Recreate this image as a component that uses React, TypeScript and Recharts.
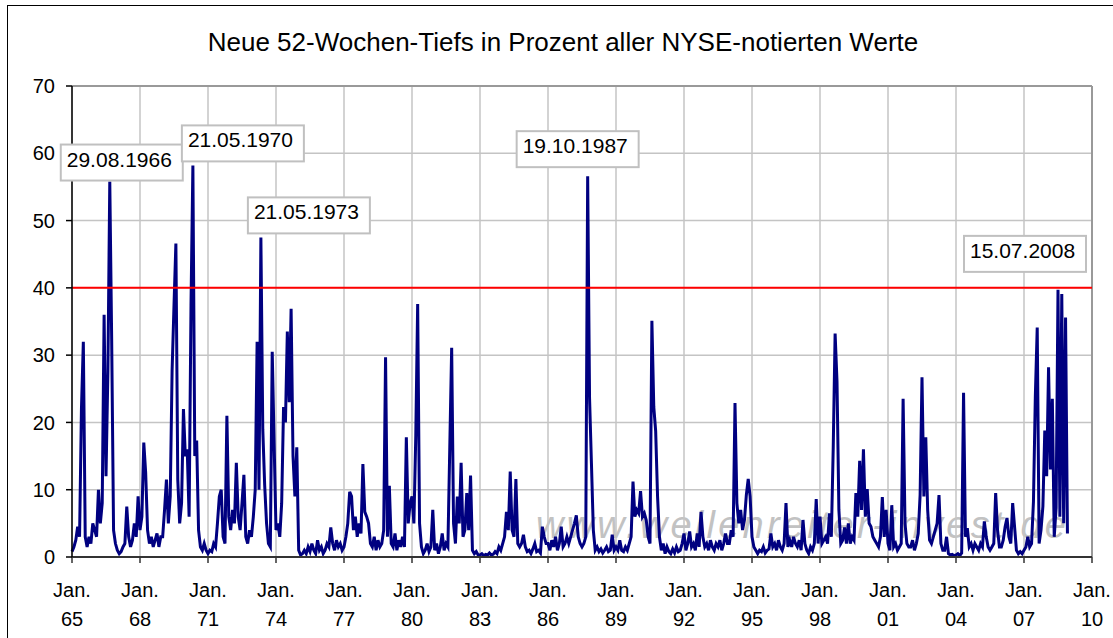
import React from 'react';
import { LineChart, Line, XAxis, YAxis, CartesianGrid, ReferenceLine, ReferenceDot } from 'recharts';

const FONT = '"Liberation Sans", Arial, sans-serif';
const START_YEAR = 1965;

// monthly readings (Jan..Dec per row), % of NYSE issues at new 52-week lows
const lows1965to1969 = [
  0.8, 1.5, 2.5, 4.5, 3, 22, 32, 3, 1.5, 3, 2, 5,
  4, 3, 10, 5, 8, 36, 12, 27.5, 55.8, 32.4, 4, 2,
  1, 0.5, 0.8, 1.5, 2, 7.5, 3, 1.5, 2.5, 5, 3, 9,
  4, 6, 17, 12.5, 4, 2, 3, 1.5, 2.5, 3.5, 1.5, 3,
  3, 7, 11.5, 5, 9, 27.8, 37.4, 46.6, 11.5, 5, 8, 22,
];
const lows1970to1974 = [
  15, 16, 6, 37.4, 58.2, 15, 17.3, 4, 1.5, 1, 2, 1,
  0.5, 1, 0.8, 2, 1.5, 5, 9, 10, 3, 2, 21, 6,
  4, 7, 5, 14, 6, 4, 8, 12.2, 3, 2, 4, 3,
  6, 10, 32, 10, 47.5, 19, 10.7, 5, 2, 1.5, 30.5, 17,
  4, 5, 3, 8, 22.3, 20, 33.5, 23, 36.9, 15, 9, 16.3,
];
const lows1975to1979 = [
  1, 0.3, 0.5, 1, 0.5, 1.5, 0.8, 2, 1, 0.5, 2.5, 1,
  1.5, 0.5, 1, 2, 1.5, 4.4, 2, 1, 2.5, 1.5, 2, 1,
  1.5, 3, 5, 9.7, 9, 4, 6, 3, 5, 3.5, 13.8, 6.7,
  6, 5, 2, 1.5, 3, 1, 2.5, 1.5, 2, 4, 29.7, 3,
  10.6, 2, 1.5, 3.5, 1, 2.5, 1.5, 3, 1.5, 17.8, 5, 8,
];
const lows1980to1984 = [
  9, 5, 18, 37.6, 5, 1.5, 0.5, 1, 2, 0.8, 1.5, 7,
  1, 2, 0.5, 1.5, 3.5, 1, 2, 1.5, 16.3, 31.1, 5, 2,
  9, 5, 14, 3, 4, 9.5, 4, 12.1, 1, 0.5, 0.8, 0.3,
  0.3, 0.5, 0.2, 0.4, 0.3, 0.6, 0.3, 0.4, 0.8, 0.5, 1.5, 1,
  2, 3, 6.7, 4, 12.7, 4, 3, 11.6, 2, 1.5, 2, 3.3,
];
const lows1985to1989 = [
  1.5, 0.8, 1, 0.5, 1.2, 2, 0.8, 1, 0.6, 4.5, 3, 2,
  2, 1, 2.5, 1.5, 3, 1, 2, 4.5, 1.5, 2, 3, 2,
  3, 4, 5, 6.2, 3, 2, 1.5, 2, 3, 56.6, 23.6, 13.9,
  4, 1, 1.5, 0.8, 1.2, 0.6, 1, 1.5, 0.8, 1, 3.3, 1,
  1.5, 1, 2.5, 1, 0.8, 1.5, 1, 2, 3, 11.2, 6, 7,
];
const lows1990to1994 = [
  6.5, 9.8, 6, 6.5, 5.5, 3, 2, 35.1, 22.3, 18.7, 9, 3,
  1, 2, 0.5, 1.5, 0.8, 0.5, 1.2, 0.6, 1.5, 0.8, 1, 2,
  3.5, 1, 2, 3.8, 1.5, 2, 1, 3.5, 1.5, 6.7, 3, 1.5,
  2, 1, 2.5, 1.5, 1, 2, 1.5, 2.5, 1, 2, 3.5, 2,
  2, 4, 3, 22.9, 8, 5, 7, 4, 5.5, 9.2, 11.6, 9,
];
const lows1995to1999 = [
  3, 1.5, 1, 0.5, 1, 0.8, 1.5, 0.6, 1, 1.2, 3.5, 1.5,
  2, 1, 2.5, 1.5, 1, 2, 8, 1.5, 2.5, 1.5, 3, 2,
  1.5, 2.5, 1, 5.5, 2, 1, 0.5, 1.5, 1, 2, 8.6, 2,
  6, 2, 2.5, 3, 2, 6.5, 3, 16.2, 33.2, 26.1, 7, 2,
  2.5, 4.4, 2, 5, 2, 3, 2.5, 9.5, 6, 14.3, 7, 16,
];
const lows2000to2004 = [
  6, 10.1, 5, 4.5, 3, 2.5, 2, 1.5, 3, 8.9, 3, 7,
  2, 1, 7.7, 1.5, 2, 1, 1.5, 2, 23.5, 5, 2, 1.5,
  1.5, 2.5, 1, 2, 3.5, 9.2, 26.7, 9, 17.8, 7, 2.5, 2,
  3, 4, 5, 9.2, 2, 1, 1, 3, 0.5, 0.3, 0.4, 0.2,
  0.3, 0.5, 0.2, 0.6, 24.4, 3, 4.3, 1.5, 2, 1, 2, 1.5,
];
const lows2005to2008 = [
  1, 2, 1.5, 5.3, 3, 1.5, 1, 1.5, 2, 9.5, 4, 1.5,
  1.5, 2.5, 4.5, 5.8, 3, 2, 8, 4.5, 1, 0.5, 0.8, 0.5,
  1, 1.5, 3, 1.5, 2, 8.2, 23.9, 34.1, 2, 4, 7.5, 18.8,
  12, 28.2, 13, 23.5, 3, 7.3, 39.7, 6, 39.1, 5, 35.6, 3.5,
];

const xTicks = [1965, 1968, 1971, 1974, 1977, 1980, 1983, 1986, 1989, 1992, 1995, 1998, 2001, 2004, 2007, 2010];
const yTicks = [0, 10, 20, 30, 40, 50, 60, 70];
const threshold = 40;
const peakDates = ['29.08.1966', '21.05.1970', '21.05.1973', '19.10.1987', '15.07.2008'];

// where each date box sits relative to its peak (px)
const boxOffsets = [
  { dx: -49, dy: -37 },
  { dx: -11, dy: -40 },
  { dx: -13, dy: -40 },
  { dx: -71, dy: -45 },
  { dx: -94, dy: -54 },
];

const monthly = [
  ...lows1965to1969, ...lows1970to1974, ...lows1975to1979, ...lows1980to1984,
  ...lows1985to1989, ...lows1990to1994, ...lows1995to1999, ...lows2000to2004, ...lows2005to2008,
];
const data = monthly.map((v, i) => ({ x: START_YEAR + i / 12, pct: v }));

// peak point = highest month around the labelled date
const peaks = peakDates.map((d) => {
  const [, mm, yyyy] = d.split('.').map(Number);
  const idx = (yyyy - START_YEAR) * 12 + (mm - 1);
  let best = idx;
  for (let k = idx - 1; k <= idx + 1; k++) {
    if (monthly[k] > monthly[best]) best = k;
  }
  return { label: d, x: data[best].x, y: data[best].pct };
});

const YearTick = ({ x, y, payload }: any) => (
  <text textAnchor="middle" fontSize={20} fontFamily={FONT} fill="#000">
    <tspan x={x} y={y + 32}>Jan.</tspan>
    <tspan x={x} y={y + 61}>{String(payload.value % 100).padStart(2, '0')}</tspan>
  </text>
);

const DateBox = ({ cx, cy, label, dx, dy }: any) => (
  <g>
    <rect x={cx + dx} y={cy + dy} width={122} height={36} fill="#fff" stroke="#c0c0c0" strokeWidth={2} />
    <text x={cx + dx + 6} y={cy + dy + 22} fontSize={21} fontFamily={FONT} fill="#000">{label}</text>
  </g>
);

export default function App() {
  return (
    <div style={{ position: 'fixed', left: 0, top: 0, width: 1113, height: 638, overflow: 'hidden', background: '#fff' }}>
      <div style={{ position: 'absolute', left: 7, top: 5, width: 1200, height: 700, border: '1px solid #000' }} />
      <svg width={1113} height={638} style={{ position: 'absolute', left: 0, top: 0 }}>
        <text x={563} y={51} textAnchor="middle" fontSize={26} fontFamily={FONT} fill="#000">
          Neue 52-Wochen-Tiefs in Prozent aller NYSE-notierten Werte
        </text>
        <text x={536} y={538} fontSize={38} fontStyle="italic" fontFamily={FONT} fill="#c2c2c2"
          textLength={530} lengthAdjust="spacing">
          www.wellenreiter-invest.de
        </text>
      </svg>
      <div style={{ position: 'absolute', left: 0, top: 0 }}>
        <LineChart width={1113} height={638} data={data} margin={{ top: 86, right: 21, bottom: 0, left: 0 }}>
          <CartesianGrid stroke="#c4c4c4" strokeWidth={1.5} />
          <XAxis
            dataKey="x"
            type="number"
            domain={[1965, 2010]}
            ticks={xTicks}
            height={81}
            tickSize={6}
            tick={<YearTick />}
            axisLine={{ stroke: '#333', strokeWidth: 2 }}
            tickLine={{ stroke: '#333', strokeWidth: 1.5 }}
            interval={0}
          />
          <YAxis
            type="number"
            domain={[0, 70]}
            ticks={yTicks}
            width={72}
            tickSize={6}
            tickMargin={11}
            tick={{ fill: '#000', fontSize: 20, fontFamily: FONT }}
            axisLine={{ stroke: '#000', strokeWidth: 1.5 }}
            tickLine={{ stroke: '#000', strokeWidth: 1.5 }}
            interval={0}
          />
          <ReferenceLine y={70} stroke="#999" strokeWidth={2} />
          <ReferenceLine x={2010} stroke="#999" strokeWidth={2} />
          <Line
            type="linear"
            dataKey="pct"
            stroke="#000080"
            strokeWidth={3}
            dot={false}
            activeDot={false}
            isAnimationActive={false}
          />
          <ReferenceLine y={threshold} stroke="#ff0000" strokeWidth={2} />
          {peaks.map((p, i) => (
            <ReferenceDot
              key={p.label}
              x={p.x}
              y={p.y}
              r={0}
              ifOverflow="visible"
              shape={(props: any) => <DateBox {...props} label={p.label} dx={boxOffsets[i].dx} dy={boxOffsets[i].dy} />}
            />
          ))}
        </LineChart>
      </div>
    </div>
  );
}
